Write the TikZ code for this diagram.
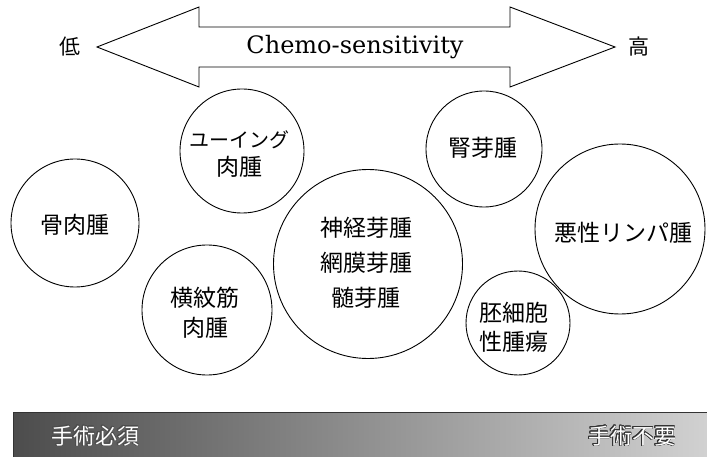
\documentclass[tikz,border=0pt]{standalone}
\usepackage{fontspec}
\setmainfont{DejaVu Serif}
\newfontfamily\jp{Noto Sans CJK JP}
\usepackage{contour}
\contourlength{0.6pt}
\begin{document}
\begin{tikzpicture}[x=1bp,y=-1bp,
  circ/.style={draw, circle, line width=0.9bp, inner sep=0pt},
  jtext/.style={font=\jp\fontsize{23bp}{30bp}\selectfont, align=center, inner sep=0pt},
  bartext/.style={font=\jp\fontsize{22bp}{25bp}\selectfont, text=white, inner sep=0pt}]
\useasboundingbox (0,0) rectangle (707,457);
% big double arrow
\draw[line width=0.9bp, line join=miter]
  (97,47) -- (199,7) -- (199,27) -- (510,27) -- (510,7) -- (615,47)
  -- (510,87) -- (510,67) -- (199,67) -- (199,87) -- cycle;
\node[font=\fontsize{24bp}{28bp}\selectfont, inner sep=0pt] (chemo) at (355,47) {Chemo-sensitivity};
\node[jtext, font=\jp\fontsize{21bp}{25bp}\selectfont] (low) at (70,47) {低};
\node[jtext, font=\jp\fontsize{21bp}{25bp}\selectfont] (high) at (639,47) {高};
% circles
\node[circ, minimum size=128bp] (osteoC) at (75,223) {};
\node[jtext] (osteo) at (75,225) {骨肉腫};
\node[circ, minimum size=124bp] (ewingC) at (242,151) {};
\node[jtext, font=\jp\fontsize{23bp}{28bp}\selectfont] (ewing) at (239,154) {{\fontsize{20bp}{28bp}\selectfont ユーイング}\\肉腫};
\node[circ, minimum size=130bp] (rhabC) at (207,310) {};
\node[jtext] (rhab) at (205,313) {横紋筋\\肉腫};
\node[circ, minimum size=189bp] (neuroC) at (368,264) {};
\node[jtext, font=\jp\fontsize{23bp}{35bp}\selectfont] (neuro) at (366,263) {神経芽腫\\網膜芽腫\\髄芽腫};
\node[circ, minimum size=116bp] (wilmsC) at (484,149) {};
\node[jtext] (wilms) at (483,148) {腎芽腫};
\node[circ, minimum size=170bp] (lymphC) at (620,229) {};
\node[jtext] (lymph) at (623,233) {悪性リンパ腫};
\node[circ, minimum size=104bp] (germC) at (518,323) {};
\node[jtext, font=\jp\fontsize{23bp}{29bp}\selectfont] (germ) at (514,327) {胚細胞\\性腫瘍};
% bottom bar
\shade[left color=black!70, right color=black!18] (13,412) rectangle (707,457);
\draw[black!80, line width=1bp] (13,457) -- (13,412) -- (707,412);
\node[bartext] (must) at (95,436) {\contour{black!70}{手術必須}};
\node[bartext] (noneed) at (632,436) {\contour{black!80}{手術不要}};
\end{tikzpicture}
\end{document}
